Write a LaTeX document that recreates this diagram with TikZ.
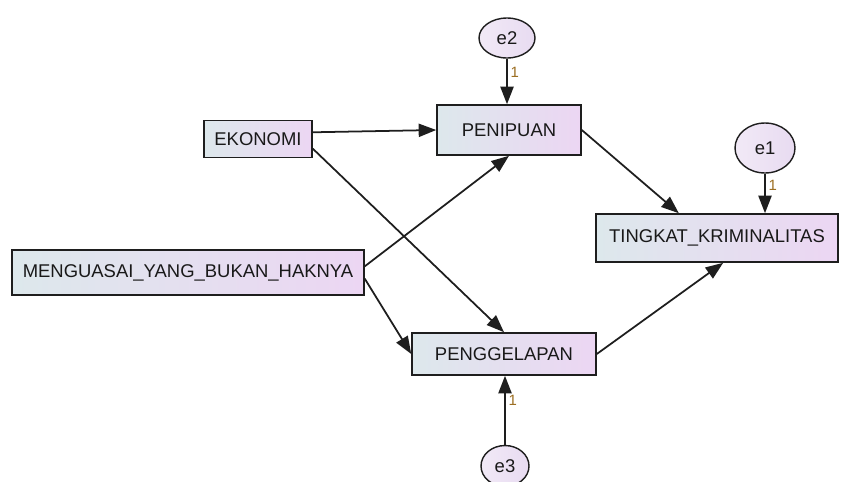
\documentclass[tikz,border=0pt]{standalone}
\usepackage{fontspec}
\setmainfont{Liberation Sans}
\usetikzlibrary{shapes.geometric,arrows.meta}
\definecolor{boxl}{HTML}{DDE8EC}
\definecolor{boxr}{HTML}{ECD6F3}
\definecolor{errc}{HTML}{E8DBF1}
\definecolor{edge}{HTML}{1E1E1E}
\definecolor{wt}{HTML}{9C6E22}

\begin{document}
\begin{tikzpicture}[x=0.02cm,y=-0.02cm,
  obs/.style={rectangle,draw=edge,line width=0.9pt,left color=boxl,right color=boxr,inner sep=0pt,text=black!90,font=\fontsize{10.5}{12}\selectfont},
  err/.style={ellipse,draw=edge,line width=0.8pt,left color=errc!60!white,right color=errc,inner sep=0pt,text=black!90,font=\fontsize{10.5}{12}\selectfont},
  arr/.style={line width=1pt,draw=edge,-{Triangle[length=10pt,width=7.5pt]}},
  wlab/.style={right,inner sep=1.5pt,text=wt,font=\fontsize{8.5}{9}\selectfont}]
\useasboundingbox (0,0) rectangle (841,481);

\node[obs,minimum width=2.16cm,minimum height=0.74cm] (eko) at (258,139) {EKONOMI};
\node[obs,minimum width=7.04cm,minimum height=0.9cm] (men) at (188,272.5) {MENGUASAI\_YANG\_BUKAN\_HAKNYA};
\node[obs,minimum width=2.88cm,minimum height=1cm] (pen) at (509,130) {PENIPUAN};
\node[obs,minimum width=3.68cm,minimum height=0.84cm] (peng) at (504,354) {PENGGELAPAN};
\node[obs,minimum width=4.84cm,minimum height=0.96cm] (ting) at (717,238) {TINGKAT\_KRIMINALITAS};

\node[err,minimum width=1.12cm,minimum height=0.8cm] (e2) at (507,38) {e2};
\node[err,minimum width=1.2cm,minimum height=1cm] (e1) at (765,148) {e1};
\node[err,minimum width=0.96cm,minimum height=0.82cm] (e3) at (505,466) {e3};

\draw[arr] (eko.7) -- (pen.west);
\draw[arr] (eko.-10) -- (peng.north);
\draw[arr] (men.2.5) -- (pen.south);
\draw[arr] (men.-2.5) -- (peng.west);
\draw[arr] (pen.east) -- (ting.147);
\draw[arr] (peng.east) -- (ting.-76);

\draw[arr] (e2) -- node[wlab,pos=0.3] {1} (e2 |- pen.north);
\draw[arr] (e1) -- node[wlab,pos=0.3] {1} (e1 |- ting.north);
\draw[arr] (e3) -- node[wlab,pos=0.65] {1} (e3 |- peng.south);

\end{tikzpicture}
\end{document}
